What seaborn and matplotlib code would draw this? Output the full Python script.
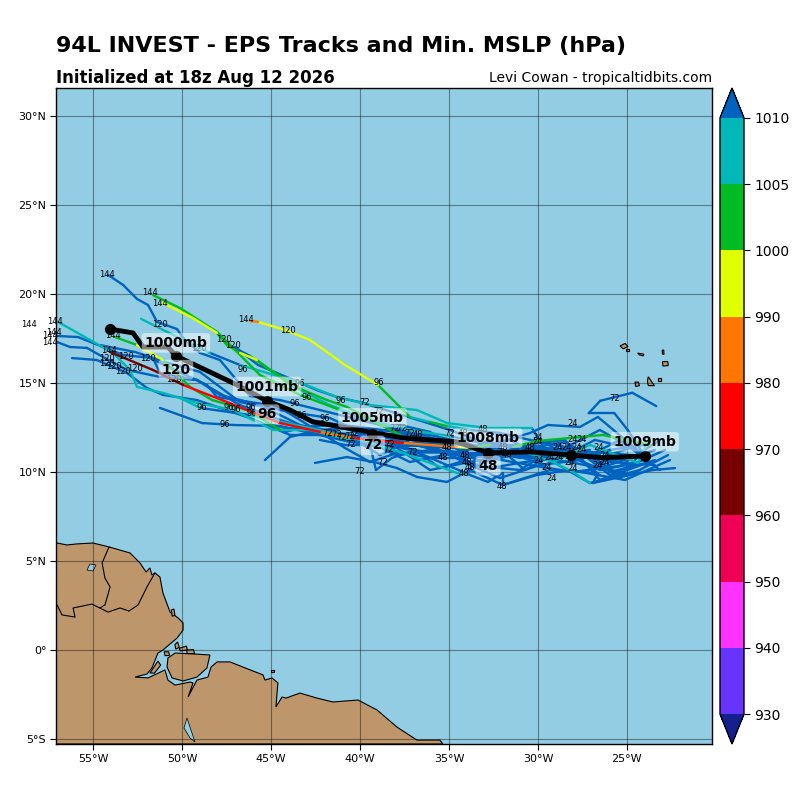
import numpy as np
import pandas as pd
import seaborn as sns
import matplotlib
matplotlib.use("Agg")
import matplotlib.pyplot as plt
from matplotlib.colors import ListedColormap, BoundaryNorm
from matplotlib.cm import ScalarMappable

# ensemble tracks, east to west, mslp per point
t01_lon = [-24.0, -24.95, -25.7, -27.15, -26.5, -24.7, -23.35]
t01_lat = [10.9, 12.35, 13.3, 13.3, 14.0, 14.45, 13.7]
t01_p = [1012, 1012, 1012, 1012, 1012, 1012, 1012]
t02_lon = [-24.27, -26.52, -28.2, -30.45, -32.13, -33.82, -35.11, -36.07, -37.19, -38.99, -40.84, -42.81, -44.21, -45.73, -46.18]
t02_lat = [11.52, 10.79, 11.35, 11.8, 12.19, 12.36, 12.58, 12.81, 13.09, 14.89, 16.01, 17.42, 17.98, 18.43, 18.48]
t02_p = [1012, 1012, 1012, 1012, 1012, 1007, 1002, 1007, 1002, 995, 995, 995, 995, 985, 985]
t03_lon = [-24.38, -26.52, -28.2, -30.45, -32.7, -34.94, -37.19, -39.44, -41.69, -43.93, -44.49, -45.79, -46.74, -47.47, -48.03, -49.38, -51.07]
t03_lat = [10.51, 10.11, 10.95, 11.52, 11.52, 12.02, 12.36, 12.92, 13.76, 14.89, 15.34, 16.29, 16.69, 17.13, 17.81, 18.65, 19.49]
t03_p = [1012, 1012, 1012, 1012, 1012, 1007, 1007, 1007, 1007, 1002, 1002, 995, 1002, 1002, 995, 995, 995]
t04_lon = [-24.0, -27.08, -29.6, -32.13, -34.38, -36.63, -38.88, -41.12, -43.37, -45.62, -48.03, -50.11, -51.63]
t04_lat = [10.9, 11.12, 11.35, 11.12, 11.69, 11.91, 12.64, 13.48, 14.33, 15.45, 17.87, 19.21, 19.94]
t04_p = [1012, 1012, 1012, 1012, 1012, 1012, 1012, 1002, 1002, 1002, 1002, 1002, 1007]
t05_lon = [-23.43, -25.96, -28.48, -31.01, -33.26, -35.51, -37.75, -40.0, -42.25, -44.49, -46.18, -47.87, -48.99, -49.94, -50.28, -51.4, -51.91, -52.53, -53.31, -54.16]
t05_lat = [10.39, 10.56, 11.35, 10.79, 11.24, 11.8, 12.36, 12.92, 13.48, 14.04, 14.27, 16.29, 16.69, 17.53, 18.03, 18.43, 19.38, 19.72, 20.51, 21.07]
t05_p = [1012, 1012, 1012, 1012, 1012, 1012, 1012, 1012, 1012, 1012, 1012, 1012, 1012, 1012, 1012, 1012, 1012, 1012, 1012, 1012]
t06_lon = [-23.71, -24.38, -27.08, -29.16, -30.34, -32.86, -35.11, -36.8, -39.44, -41.29, -43.48, -46.74, -48.43, -49.94, -50.84, -52.3]
t06_lat = [11.97, 10.51, 11.52, 10.56, 12.47, 12.47, 12.75, 13.48, 13.76, 14.21, 15.06, 16.01, 16.69, 17.42, 17.87, 18.6]
t06_p = [1007, 1007, 1007, 1012, 1007, 1007, 1007, 1007, 1007, 1007, 1007, 1012, 1007, 1007, 1007, 1007]
t07_lon = [-23.15, -25.39, -28.03, -30.45, -32.7, -34.94, -37.58, -40.56, -42.81, -44.89, -47.13, -49.16, -51.07, -52.53, -52.92, -53.88, -55.17, -56.97]
t07_lat = [11.8, 10.34, 10.0, 10.39, 10.79, 11.12, 11.07, 11.8, 12.36, 12.36, 13.48, 13.88, 14.44, 14.78, 15.73, 16.69, 17.42, 18.43]
t07_p = [1012, 1012, 1012, 1012, 1012, 1012, 1012, 1007, 1007, 1007, 1007, 1007, 1007, 1007, 1007, 1007, 1007, 1007]
t08_lon = [-22.86, -25.96, -28.2, -30.73, -32.7, -34.66, -36.63, -38.88, -41.12, -43.37, -45.62, -47.87, -49.16, -51.24, -51.63, -53.31, -54.44, -55.84, -57.02]
t08_lat = [11.24, 9.83, 11.52, 10.11, 11.8, 10.95, 11.52, 11.8, 12.19, 12.64, 13.76, 14.33, 15.17, 15.56, 16.4, 16.57, 17.02, 17.58, 17.64]
t08_p = [1012, 1012, 1012, 1012, 1012, 1012, 1012, 1012, 1012, 1012, 1012, 1012, 1012, 1012, 1012, 1012, 1012, 1012, 1012]
t09_lon = [-22.3, -23.54, -26.91, -26.63, -29.32, -31.97, -31.97, -32.81, -33.82, -35.51, -37.75, -40.0, -42.25, -44.49, -46.74, -49.16, -51.24, -53.09, -54.44, -55.34, -56.29, -57.02]
t09_lat = [10.22, 10.11, 9.38, 9.94, 10.11, 9.27, 9.94, 9.44, 9.83, 10.56, 11.52, 11.97, 12.25, 12.92, 13.76, 15.17, 15.34, 15.73, 16.46, 16.97, 17.02, 17.3]
t09_p = [1012, 1012, 1012, 1012, 1012, 1012, 1012, 1012, 1012, 1012, 1012, 1012, 1012, 1012, 1012, 1012, 1012, 1012, 1012, 1012, 1012, 1012]
t10_lon = [-22.58, -25.11, -28.2, -30.06, -31.97, -33.82, -35.11, -36.8, -37.92, -38.99, -40.73, -42.53]
t10_lat = [10.67, 9.55, 10.11, 9.83, 9.27, 10.11, 9.44, 9.72, 10.22, 10.51, 10.84, 10.51]
t10_p = [1012, 1012, 1012, 1012, 1012, 1012, 1012, 1012, 1012, 1012, 1012, 1012]
t11_lon = [-23.43, -26.52, -28.48, -30.73, -33.37, -35.51, -37.75, -39.44, -41.69, -43.93, -46.18, -49.16, -51.07, -51.97, -53.09, -54.78, -56.18]
t11_lat = [10.67, 9.55, 11.8, 11.52, 10.39, 11.12, 12.25, 11.8, 12.08, 12.08, 13.03, 14.04, 14.33, 14.72, 15.56, 16.29, 16.4]
t11_p = [1012, 1012, 1012, 1012, 1012, 1012, 1012, 1012, 1012, 1012, 1012, 1012, 1012, 1012, 1012, 1012, 1012]
t12_lon = [-23.15, -25.39, -27.64, -29.89, -32.13, -34.1, -36.07, -37.98, -40.56, -44.49, -47.13, -48.88, -51.24]
t12_lat = [10.11, 11.8, 10.67, 10.39, 9.66, 10.51, 10.11, 11.4, 11.69, 12.58, 12.64, 12.75, 13.6]
t12_p = [1012, 1012, 1012, 1012, 1012, 1012, 1012, 1012, 1012, 1012, 1012, 1012, 1012]
t13_lon = [-24.0, -26.52, -28.48, -30.45, -32.7, -33.82, -34.55, -37.58, -40.39, -42.25, -44.49, -47.47, -49.94, -51.63, -54.04]
t13_lat = [10.9, 10.56, 11.69, 11.35, 11.52, 11.35, 11.4, 11.63, 11.91, 12.25, 12.75, 13.93, 14.89, 15.73, 16.74]
t13_p = [1012, 1012, 1012, 1012, 1002, 995, 985, 975, 985, 975, 975, 975, 965, 965, 965]
t14_lon = [-23.71, -26.35, -28.2, -30.06, -31.4, -33.82, -36.07, -38.31, -40.56, -41.69, -44.49, -46.35, -48.31, -49.55, -51.07, -52.53, -53.76]
t14_lat = [11.52, 12.08, 11.91, 11.74, 11.4, 11.8, 11.52, 11.4, 12.36, 12.64, 12.36, 13.48, 14.04, 14.78, 16.29, 17.13, 17.58]
t14_p = [1002, 1002, 1002, 1002, 1012, 1012, 1012, 1012, 1012, 1012, 1002, 1002, 1002, 1002, 995, 1002, 1002]
t15_lon = [-24.27, -27.08, -29.32, -31.57, -33.82, -36.07, -37.75, -39.44, -41.12, -42.81, -45.06, -48.03, -48.6, -49.44, -51.8]
t15_lat = [10.11, 9.38, 10.67, 11.8, 10.95, 12.25, 12.64, 12.08, 12.64, 12.92, 13.76, 14.21, 14.89, 15.28, 16.4]
t15_p = [1012, 1012, 1012, 1012, 1012, 1012, 1012, 1012, 1012, 1012, 1012, 1012, 1012, 1012, 1012]
t16_lon = [-23.71, -26.52, -29.6, -31.57, -33.82, -35.79, -38.03, -40.56, -42.25, -43.93, -45.34]
t16_lat = [10.79, 12.36, 10.79, 11.12, 10.79, 11.24, 11.8, 12.47, 12.36, 11.97, 10.67]
t16_p = [1012, 1012, 1012, 1012, 1012, 1012, 1012, 1012, 1012, 1012, 1012]
t17_lon = [-24.27, -26.63, -27.64, -29.44, -30.45, -32.7, -34.94, -39.83, -41.29, -42.42, -43.48, -45.73, -47.02]
t17_lat = [11.12, 13.09, 12.53, 12.64, 12.19, 11.52, 12.36, 13.88, 14.21, 14.6, 15.06, 16.01, 17.02]
t17_p = [1012, 1012, 1012, 1012, 1012, 1012, 1012, 1012, 1012, 1012, 1012, 1012, 1012]
t18_lon = [-26.52, -28.76, -31.01, -33.82, -36.07, -37.75, -40.73, -41.85, -43.2, -44.33, -45.06, -46.18, -47.58]
t18_lat = [9.83, 11.52, 10.11, 10.39, 11.52, 12.08, 13.65, 14.04, 14.6, 15.28, 15.73, 16.52, 17.25]
t18_p = [1012, 1012, 1012, 1012, 1012, 1002, 1002, 1002, 1002, 1002, 1002, 1012, 1012]
t19_lon = [-27.08, -28.03, -29.16, -31.01, -33.26, -33.99, -34.55, -37.58, -40.0, -42.81, -46.18, -48.99, -50.11]
t19_lat = [9.38, 10.0, 10.56, 11.24, 11.12, 9.83, 9.94, 11.07, 11.8, 12.47, 13.2, 13.6, 14.16]
t19_p = [1007, 1007, 1007, 1012, 1012, 1007, 1007, 1007, 1007, 1007, 1012, 1007, 1007]
t20_lon = [-22.69, -24.83, -27.08, -29.04, -31.01, -32.7, -34.38, -36.07, -37.75, -39.16, -40.84, -42.25]
t20_lat = [10.95, 9.83, 10.39, 11.24, 11.35, 10.95, 11.12, 11.24, 10.95, 11.52, 11.52, 11.8]
t20_p = [1012, 1012, 1012, 1012, 1012, 1012, 1012, 1012, 1012, 1012, 1012, 1012]
t21_lon = [-24.0, -25.96, -27.92, -29.89, -31.85, -33.82, -35.51, -37.19, -38.88, -40.28, -41.69, -43.37, -45.06]
t21_lat = [11.52, 11.24, 10.67, 11.8, 10.95, 10.56, 11.52, 11.8, 10.95, 11.8, 11.97, 12.36, 12.64]
t21_p = [1012, 1012, 1012, 1012, 1012, 1012, 1012, 1012, 1012, 1012, 1012, 1012, 1012]
t22_lon = [-23.43, -26.52, -28.2, -30.45, -32.42, -34.38, -36.07, -37.75, -39.44, -40.84, -43.37, -44.49, -46.18]
t22_lat = [11.24, 10.22, 10.56, 10.79, 11.35, 10.79, 10.79, 11.12, 10.56, 11.35, 12.92, 13.6, 14.6]
t22_p = [1012, 1012, 1012, 1012, 1012, 1012, 1012, 1012, 1012, 1012, 1012, 1012, 1012]
t23_lon = [-24.27, -25.39, -27.08, -28.76, -30.45, -32.13, -34.1, -35.51, -37.19, -38.6, -40.0, -41.69, -43.93, -46.74, -48.99, -50.96, -52.64, -54.61]
t23_lat = [10.95, 9.83, 10.95, 11.24, 11.12, 11.52, 11.24, 10.9, 10.56, 11.24, 12.25, 13.03, 13.37, 13.93, 15.62, 16.18, 16.74, 17.13]
t23_p = [1012, 1012, 1012, 1012, 1012, 1012, 1012, 1012, 1012, 1012, 1012, 1012, 1012, 1012, 1012, 1012, 1012, 1012]
t24_lon = [-23.71, -25.96, -27.75, -29.6, -31.29, -33.26, -34.94, -36.63, -38.03]
t24_lat = [10.56, 10.0, 11.35, 10.39, 10.95, 10.56, 11.52, 11.69, 11.35]
t24_p = [1012, 1012, 1012, 1012, 1012, 1012, 1012, 1012, 1012]
t25_lon = [-24.83, -26.8, -28.76, -30.73, -32.7, -34.38, -35.51, -36.91, -38.2, -39.1, -39.44, -40.84]
t25_lat = [11.35, 11.8, 10.79, 10.56, 10.22, 10.56, 10.22, 11.24, 10.79, 10.11, 11.52, 12.08]
t25_p = [1012, 1012, 1012, 1012, 1012, 1012, 1012, 1012, 1012, 1012, 1012, 1012]
t26_lon = [-26.52, -28.76, -30.45, -32.13, -33.82, -35.51, -36.63, -38.03]
t26_lat = [10.95, 11.12, 11.24, 11.18, 11.29, 11.4, 11.46, 11.69]
t26_p = [1012, 1012, 1012, 1012, 1012, 1012, 1012, 1012]
t27_lon = [-27.08, -29.32, -31.01, -32.7, -34.38, -36.07, -37.47, -38.88]
t27_lat = [11.24, 10.95, 11.07, 11.01, 11.07, 11.12, 11.29, 11.8]
t27_p = [1012, 1012, 1012, 1012, 1012, 1012, 1012, 1012]
t28_lon = [-33.82, -36.07, -38.03, -40.0, -41.69, -43.09, -44.21]
t28_lat = [11.57, 12.08, 12.25, 12.53, 12.7, 12.53, 12.25]
t28_p = [1012, 1012, 1012, 1012, 1012, 1012, 1012]

tracks = [
    (t01_lon, t01_lat, t01_p), (t02_lon, t02_lat, t02_p), (t03_lon, t03_lat, t03_p),
    (t04_lon, t04_lat, t04_p), (t05_lon, t05_lat, t05_p), (t06_lon, t06_lat, t06_p),
    (t07_lon, t07_lat, t07_p), (t08_lon, t08_lat, t08_p), (t09_lon, t09_lat, t09_p),
    (t10_lon, t10_lat, t10_p), (t11_lon, t11_lat, t11_p), (t12_lon, t12_lat, t12_p),
    (t13_lon, t13_lat, t13_p), (t14_lon, t14_lat, t14_p), (t15_lon, t15_lat, t15_p),
    (t16_lon, t16_lat, t16_p), (t17_lon, t17_lat, t17_p), (t18_lon, t18_lat, t18_p),
    (t19_lon, t19_lat, t19_p), (t20_lon, t20_lat, t20_p), (t21_lon, t21_lat, t21_p),
    (t22_lon, t22_lat, t22_p), (t23_lon, t23_lat, t23_p), (t24_lon, t24_lat, t24_p),
    (t25_lon, t25_lat, t25_p), (t26_lon, t26_lat, t26_p), (t27_lon, t27_lat, t27_p),
    (t28_lon, t28_lat, t28_p),
]

# mean track
mean_lon = [-24.0, -26.35, -28.15, -30.45, -32.8, -34.55, -37.58, -39.44, -42.64, -43.93, -45.22, -47.13, -50.34, -50.79, -52.19, -52.75, -54.04]
mean_lat = [10.9, 10.8, 10.95, 11.13, 11.07, 11.69, 11.91, 12.25, 12.81, 13.48, 13.99, 15.0, 16.52, 17.02, 17.02, 17.81, 18.03]
day_lon = [-24.0, -28.15, -32.8, -39.3, -45.22, -50.34, -54.04]
day_lat = [10.9, 10.95, 11.07, 12.14, 13.99, 16.52, 18.03]
mslp_text = ["1009mb", "1008mb", "1005mb", "1001mb", "1000mb"]
mslp_lon = [-24.0, -32.8, -39.3, -45.22, -50.34]
mslp_lat = [11.7, 11.9, 13.05, 14.8, 17.25]
hour_text = ["48", "72", "96", "120"]
hour_lon = [-32.8, -39.3, -45.22, -50.34]
hour_lat = [10.35, 11.5, 13.25, 15.75]

# lead time labels
lab24_lon = [-28.03, -30.0, -30.0, -28.88, -28.03, -27.53, -28.37, -27.81, -27.53, -26.57, -26.24, -26.24, -26.63, -29.33, -28.82, -29.94, -29.49, -29.21, -28.2, -28.03]
lab24_lat = [12.75, 11.91, 11.69, 11.4, 11.8, 11.8, 11.4, 11.35, 11.29, 11.4, 10.9, 10.56, 10.39, 10.84, 10.79, 10.62, 10.28, 9.66, 10.51, 10.22]
lab48_lon = [-36.74, -35.11, -35.34, -34.1, -33.99, -33.82, -34.16, -33.09, -34.21, -32.02, -31.97, -30.45, -31.74]
lab48_lat = [12.13, 11.4, 10.79, 10.95, 10.56, 10.28, 9.89, 12.36, 12.19, 9.21, 11.35, 11.35, 11.01]
lab72_lon = [-41.8, -41.29, -41.01, -40.56, -40.51, -40.34, -38.03, -37.64, -37.19, -38.37, -38.31, -37.02, -38.71, -40.0, -34.94, -39.72, -38.93, -25.67]
lab72_lat = [12.19, 12.08, 11.91, 11.97, 11.52, 12.19, 12.42, 12.42, 12.19, 11.24, 11.52, 11.12, 10.51, 10.0, 12.19, 13.88, 13.37, 14.1]
lab96_lon = [-46.57, -48.88, -47.58, -47.36, -46.95, -46.12, -46.07, -43.37, -42.98, -43.65, -43.26, -41.97, -41.07, -38.93]
lab96_lat = [15.73, 13.6, 12.64, 13.6, 13.5, 13.6, 13.26, 14.95, 14.21, 13.82, 13.2, 12.98, 14.04, 15.0]
lab120_lon = [-51.24, -47.64, -47.13, -49.05, -51.91, -53.15, -54.21, -54.21, -53.82, -52.64, -53.31, -50.45, -44.04]
lab120_lat = [18.31, 17.42, 17.13, 16.91, 16.4, 16.46, 16.4, 16.07, 15.9, 15.84, 15.62, 15.22, 17.92]
lab144_lon = [-54.21, -51.8, -51.24, -46.4, -57.13, -58.6, -57.19, -57.42, -57.42, -53.88, -54.1]
lab144_lat = [21.12, 20.11, 19.49, 18.54, 18.43, 18.31, 17.81, 17.64, 17.25, 17.64, 16.8]

# land
coast_lon = [-57.08, -57.02, -56.46, -55.9, -55.0, -54.1, -52.92, -52.36, -52.02, -51.8, -51.69, -51.52, -51.24, -51.07, -50.67, -50.22, -49.94, -49.94, -50.28, -51.07, -51.35, -51.69, -51.97, -52.64, -51.91, -50.96, -50.79, -50.39, -49.55, -49.38, -49.66, -49.16, -48.54, -48.37, -48.03, -47.3, -46.57, -45.45, -45.34, -44.94, -44.61, -44.66, -44.72, -44.38, -44.16, -43.37, -42.42, -41.52, -40.11, -39.04, -37.92, -36.8, -35.51, -35.34, -57.08]
coast_lat = [6.01, 6.01, 5.9, 5.96, 6.01, 5.79, 5.45, 4.89, 4.38, 4.61, 4.21, 4.33, 4.1, 3.2, 2.13, 1.8, 1.52, 1.12, 0.67, 0.0, -0.17, -1.01, -1.35, -1.52, -1.57, -1.12, -1.69, -1.97, -1.8, -1.85, -2.64, -1.69, -1.52, -0.96, -0.67, -0.67, -0.96, -1.4, -1.69, -1.57, -1.85, -2.42, -3.2, -2.64, -2.7, -2.42, -2.7, -2.92, -2.81, -3.37, -4.33, -5.06, -5.06, -5.28, -5.28]
marajo_lon = [-50.79, -50.39, -49.38, -48.43, -48.6, -49.16, -49.94, -50.56, -50.84]
marajo_lat = [-0.45, -0.17, -0.22, -0.28, -1.01, -1.52, -1.74, -1.57, -0.96]
islets = [
    ([-51.8, -51.35, -51.2, -51.55], [-1.29, -0.62, -0.85, -1.3]),
    ([-50.4, -50.25, -50.15, -50.35], [0.3, 0.45, 0.15, 0.05]),
    ([-50.15, -49.75, -49.7, -50.1], [0.1, 0.22, 0.0, -0.05]),
    ([-49.75, -49.35, -49.3, -49.7], [0.0, 0.02, -0.2, -0.2]),
    ([-51.0, -50.75, -50.7, -50.95], [-0.1, -0.1, -0.3, -0.32]),
    ([-50.6, -50.45, -50.4, -50.55], [2.25, 2.3, 1.95, 1.9]),
    ([-45.0, -44.85, -44.85, -45.0], [-1.1, -1.1, -1.25, -1.25]),
    ([-25.39, -25.1, -24.94, -25.2], [17.08, 17.22, 17.05, 16.92]),
    ([-25.05, -24.9, -24.9, -25.05], [16.9, 16.9, 16.78, 16.78]),
    ([-24.4, -24.05, -24.08, -24.3], [16.68, 16.62, 16.52, 16.58]),
    ([-23.02, -22.93, -22.92, -23.0], [16.85, 16.85, 16.6, 16.62]),
    ([-23.0, -22.7, -22.68, -22.98], [16.2, 16.2, 15.98, 15.95]),
    ([-24.55, -24.35, -24.3, -24.5], [15.05, 15.05, 14.85, 14.8]),
    ([-23.8, -23.6, -23.45, -23.8, -23.85], [15.35, 15.05, 14.85, 14.85, 15.1]),
    ([-23.25, -23.1, -23.1, -23.25], [15.3, 15.3, 15.1, 15.1]),
]
lakes = [
    ([-55.34, -55.17, -54.83, -55.0], [4.49, 4.83, 4.78, 4.44]),
    ([-49.72, -49.55, -49.27, -49.55, -49.89], [-3.82, -4.33, -5.17, -4.94, -4.38]),
]
borders = [
    ([-54.1, -54.49, -54.33, -54.04, -54.33, -54.61], [5.79, 4.89, 4.04, 3.54, 2.53, 2.36]),
    ([-51.52, -51.97, -52.47, -52.98], [4.33, 3.54, 2.53, 2.19]),
    ([-57.02, -56.74, -56.01, -56.12, -55.06, -54.16, -53.48, -52.98], [2.53, 1.97, 1.85, 2.36, 2.58, 2.13, 2.36, 2.19]),
]

# colour scale
levels = [930, 940, 950, 960, 970, 980, 990, 1000, 1005, 1010]
band_colors = ["#6633ff", "#ff33ff", "#ee0055", "#770000", "#ff0000", "#ff7700", "#e0ff00", "#00bb22", "#00b8b8"]
under_color = "#15208f"
over_color = "#0063bf"
ocean_color = "#93cde4"
land_color = "#bd976b"
x_ticks = [-55, -50, -45, -40, -35, -30, -25]
x_labels = ["55°W", "50°W", "45°W", "40°W", "35°W", "30°W", "25°W"]
y_ticks = [-5, 0, 5, 10, 15, 20, 25, 30]
y_labels = ["5°S", "0°", "5°N", "10°N", "15°N", "20°N", "25°N", "30°N"]

sns.set_style("ticks", {"axes.edgecolor": "black", "xtick.color": "black", "ytick.color": "black", "text.color": "black", "axes.labelcolor": "black"})
fig = plt.figure(figsize=(8, 8), dpi=100)
ax = fig.add_axes([0.07, 0.07, 0.82, 0.82])
ax.set_facecolor(ocean_color)

cmap = ListedColormap(band_colors)
cmap.set_under(under_color)
cmap.set_over(over_color)
norm = BoundaryNorm(levels, cmap.N)

ax.fill(coast_lon, coast_lat, facecolor=land_color, edgecolor="black", lw=0.8, zorder=1)
ax.fill(marajo_lon, marajo_lat, facecolor=land_color, edgecolor="black", lw=0.8, zorder=1)
for lo, la in islets:
    ax.fill(lo, la, facecolor=land_color, edgecolor="black", lw=0.8, zorder=1)
for lo, la in lakes:
    ax.fill(lo, la, facecolor=ocean_color, edgecolor="black", lw=0.5, zorder=1.2)
for lo, la in borders:
    sns.lineplot(x=lo, y=la, sort=False, estimator=None, color="black", lw=0.8, ax=ax, zorder=1.3)

# one row pair per segment so the colour can change along a track
rows = []
seg = 0
for lons, lats, ps in tracks:
    for i in range(len(lons) - 1):
        rows.append((lons[i], lats[i], seg, ps[i]))
        rows.append((lons[i + 1], lats[i + 1], seg, ps[i]))
        seg += 1
seg_df = pd.DataFrame(rows, columns=["lon", "lat", "seg", "p"])
palette = {p: matplotlib.colors.to_hex(cmap(norm(p))) for p in seg_df["p"].unique()}
sns.lineplot(data=seg_df, x="lon", y="lat", hue="p", palette=palette,
             hue_order=[1012, 1007, 1002, 995, 985, 975, 965],
             units="seg", estimator=None, sort=False, legend=False, lw=1.7, ax=ax, zorder=3)

# small hour labels
for hour, lo, la in [("24", lab24_lon, lab24_lat), ("48", lab48_lon, lab48_lat), ("72", lab72_lon, lab72_lat),
                     ("96", lab96_lon, lab96_lat), ("120", lab120_lon, lab120_lat), ("144", lab144_lon, lab144_lat)]:
    for a, b in zip(lo, la):
        ax.text(a, b, hour, fontsize=6, ha="center", va="center", zorder=4, clip_on=False)

# mean track
sns.lineplot(x=mean_lon, y=mean_lat, sort=False, estimator=None, color="black", lw=3.5, ax=ax, zorder=5)
sns.scatterplot(x=day_lon, y=day_lat, color="black", s=65, linewidth=0, ax=ax, zorder=5)

box = dict(facecolor="white", alpha=0.5, edgecolor="none", boxstyle="round,pad=0.2")
for t, a, b in zip(mslp_text, mslp_lon, mslp_lat):
    ax.text(a, b, t, fontsize=10, fontweight="bold", ha="center", va="center", bbox=box, zorder=6)
for t, a, b in zip(hour_text, hour_lon, hour_lat):
    ax.text(a, b, t, fontsize=10, fontweight="bold", ha="center", va="center", bbox=box, zorder=6)

ax.set_xlim(-57.08, -20.22)
ax.set_ylim(-5.28, 31.57)
ax.set_xticks(x_ticks)
ax.set_xticklabels(x_labels, fontsize=8)
ax.set_yticks(y_ticks)
ax.set_yticklabels(y_labels, fontsize=8)
ax.set_xlabel("")
ax.set_ylabel("")
ax.grid(True, color="black", alpha=0.4, lw=0.8, zorder=2)
ax.set_axisbelow(False)
ax.tick_params(length=4, width=0.8, pad=3)
for s in ax.spines.values():
    s.set_visible(True)
    s.set_linewidth(1.0)
    s.set_zorder(7)

fig.text(0.07, 0.942, "94L INVEST - EPS Tracks and Min. MSLP (hPa)", fontsize=16, fontweight="bold", ha="left", va="center")
fig.text(0.07, 0.903, "Initialized at 18z Aug 12 2026", fontsize=12, fontweight="bold", ha="left", va="center")
fig.text(0.89, 0.903, "Levi Cowan - tropicaltidbits.com", fontsize=10, ha="right", va="center")

cax = fig.add_axes([0.90, 0.07, 0.03, 0.82])
cb = fig.colorbar(ScalarMappable(norm=norm, cmap=cmap), cax=cax, extend="both", spacing="uniform", ticks=levels)
cb.ax.tick_params(labelsize=10, length=4, width=0.8)
cb.outline.set_edgecolor("black")
cb.outline.set_linewidth(1.0)
cb.ax.minorticks_off()

fig.savefig("out.png", dpi=100)
